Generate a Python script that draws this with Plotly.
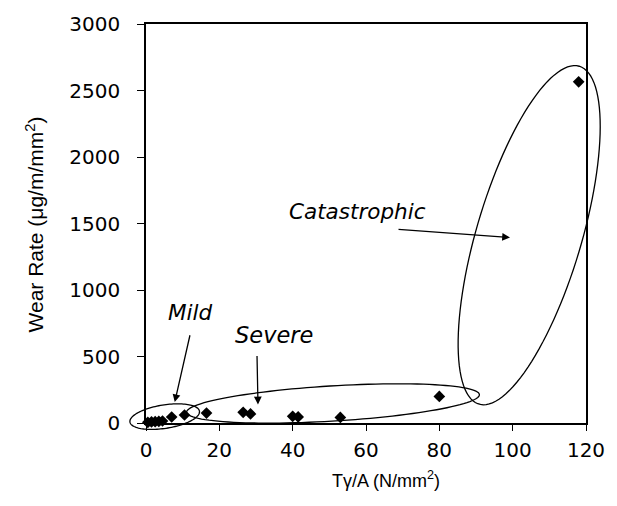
import numpy as np
import plotly.graph_objects as go

# ---- data ----
stress = [0.5, 1.5, 2.5, 3.5, 4.5, 7.0, 10.5, 16.5, 26.5, 28.5, 40.0, 41.5, 53.0, 80.0, 118.0]
wear_rate = [5, 8, 10, 12, 15, 45, 60, 75, 80, 68, 50, 46, 42, 200, 2565]

x_ticks = [0, 20, 40, 60, 80, 100, 120]
y_ticks = [0, 500, 1000, 1500, 2000, 2500, 3000]
x_range = [0, 120]
y_range = [0, 3000]

regime_labels = ["Mild", "Severe", "Catastrophic"]

# ---- layout geometry ----
W, H = 617, 506
ML, MR, MT, MB = 146, 27, 15, 83
PW, PH = W - ML - MR, H - MT - MB
ppx = PW / (x_range[1] - x_range[0])   # pixels per x unit
ppy = PH / (y_range[1] - y_range[0])   # pixels per y unit

# ellipses: centre in data units, semi-axes in pixels, tilt in degrees
ellipses = [
    dict(cx=5.1, cy=48, a=35.5, b=12, ang=9),
    dict(cx=51.0, cy=147, a=148, b=18, ang=3.5),
    dict(cx=104.5, cy=1412, a=180, b=53, ang=73.7),
]

def ellipse_path(e, n=120):
    t = np.linspace(0, 2 * np.pi, n)
    th = np.radians(e["ang"])
    dx = e["a"] * np.cos(t) * np.cos(th) - e["b"] * np.sin(t) * np.sin(th)
    dy = e["a"] * np.cos(t) * np.sin(th) + e["b"] * np.sin(t) * np.cos(th)
    xs = e["cx"] + dx / ppx
    ys = e["cy"] + dy / ppy
    xp = (xs - x_range[0]) / (x_range[1] - x_range[0])
    yp = (ys - y_range[0]) / (y_range[1] - y_range[0])
    pts = [f"{a:.5f},{b:.5f}" for a, b in zip(xp, yp)]
    return "M" + " L".join(pts) + " Z"

fig = go.Figure()
fig.add_trace(go.Scatter(
    x=stress, y=wear_rate, mode="markers",
    marker=dict(symbol="diamond", size=9, color="black"),
    cliponaxis=False, showlegend=False,
))

shapes = [dict(type="path", path=ellipse_path(e), xref="paper", yref="paper",
               line=dict(color="black", width=1.3), layer="above")
          for e in ellipses]

label_font = dict(family="DejaVu Sans", size=21.5, color="black", style="italic")
arrow_style = dict(xref="x", yref="y", axref="x", ayref="y", text="", showarrow=True,
                   arrowhead=2, arrowsize=1.2, arrowwidth=1.3, arrowcolor="black")
annotations = [
    # labels
    dict(x=11.9, y=830, text=regime_labels[0], showarrow=False, font=label_font),
    dict(x=34.8, y=660, text=regime_labels[1], showarrow=False,
         font=dict(label_font, size=22.5)),
    dict(x=57.6, y=1590, text=regime_labels[2], showarrow=False, font=label_font),
    # arrows
    dict(x=7.84, y=157, ax=12.08, ay=671, **arrow_style),
    dict(x=30.54, y=140, ax=30.27, ay=515, **arrow_style),
    dict(x=99.27, y=1395, ax=68.46, ay=1456, **arrow_style),
    # axis titles
    dict(x=(388 - ML) / PW, y=(H - MB - 481) / PH, xref="paper", yref="paper",
         xanchor="center", yanchor="middle",
         text="Tγ/A (N/mm<sup>2</sup>)", showarrow=False,
         font=dict(family="Liberation Sans", size=18, color="black")),
    dict(x=(34 - ML) / PW, y=(H - MB - 220) / PH, xref="paper", yref="paper",
         xanchor="center", yanchor="middle",
         text="Wear Rate (μg/m/mm<sup>2</sup>)", showarrow=False, textangle=-90,
         font=dict(family="Liberation Sans", size=21, color="black")),
]

tick_font = dict(family="DejaVu Sans", size=20, color="black")
fig.update_layout(
    width=W, height=H,
    margin=dict(l=ML, r=MR, t=MT, b=MB),
    paper_bgcolor="white", plot_bgcolor="white",
    shapes=shapes, annotations=annotations,
    xaxis=dict(range=x_range, tickvals=x_ticks, ticks="outside", ticklen=6, tickwidth=1,
               tickcolor="black", showline=True, linecolor="black", linewidth=1.5,
               mirror=True, showgrid=False, zeroline=False, tickfont=tick_font,
               ticklabelstandoff=2),
    yaxis=dict(range=y_range, tickvals=y_ticks, ticks="outside", ticklen=7, tickwidth=1,
               tickcolor="black", showline=True, linecolor="black", linewidth=1.5,
               mirror=True, showgrid=False, zeroline=False, tickfont=tick_font,
               ticklabelstandoff=13),
)

fig.write_html("out.html")
